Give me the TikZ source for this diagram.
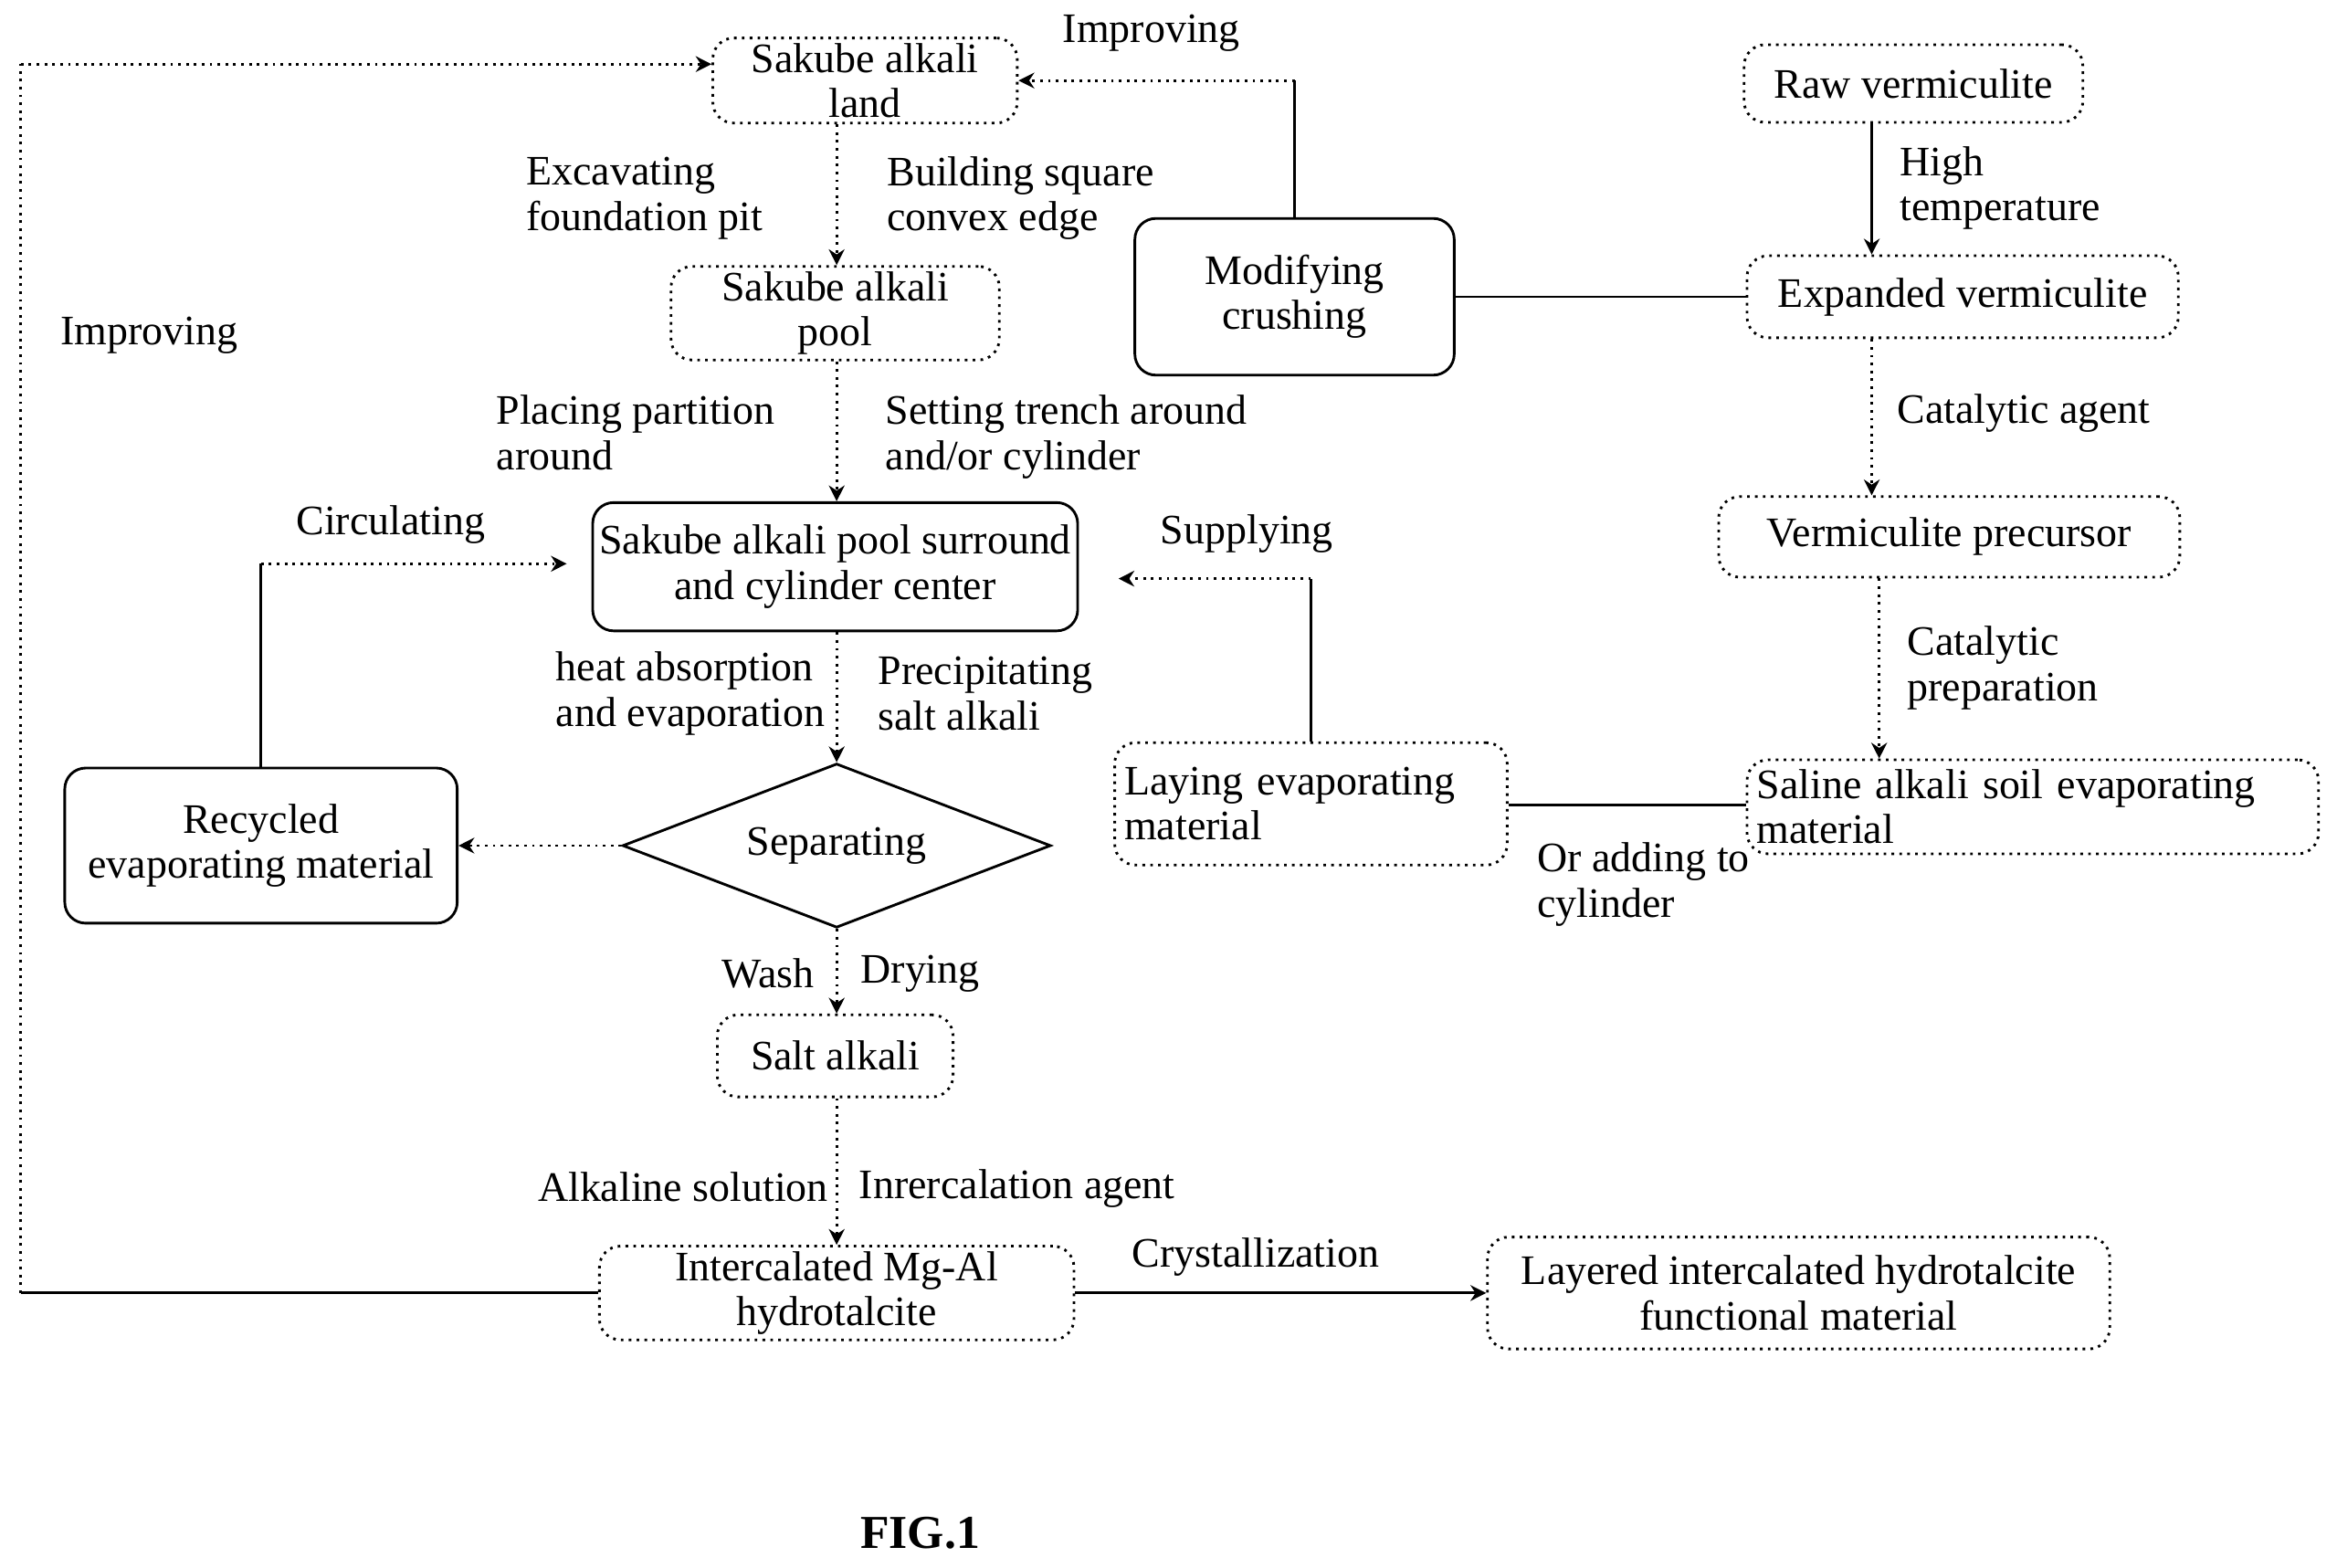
\documentclass[tikz,border=0pt]{standalone}
\usepackage{fontspec}
\setmainfont{Liberation Serif}
\usetikzlibrary{shapes.geometric,arrows.meta}
\begin{document}
\begin{tikzpicture}[x=0.01cm,y=-0.01cm,
 font=\fontsize{8}{8.6}\selectfont,
 box/.style={draw,rounded corners=4pt,align=center,inner sep=1pt},
 dt/.style={densely dotted},
 lab/.style={align=left,inner sep=0pt},
 arr/.style={-{Stealth[length=3pt,width=3pt]}},
 line width=0.5pt]
\useasboundingbox (0,0) rectangle (1567,1051);
\node[box,dt,minimum width=2.04cm,minimum height=0.55cm] (land) at (580,54) {Sakube alkali\\land};
\node[box,dt,minimum width=2.2cm,minimum height=0.6cm] (pool) at (560,210) {Sakube alkali\\pool};
\node[box,minimum width=3.25cm,minimum height=0.86cm] (sur) at (560,380) {Sakube alkali pool surround\\and cylinder center};
\node[draw,diamond,aspect=2.6,minimum width=2.87cm,minimum height=1.1cm,inner sep=0pt] (sep) at (561,567) {Separating};
\node[box,minimum width=2.63cm,minimum height=1.04cm] (rec) at (175,567) {Recycled\\evaporating material};
\node[box,dt,minimum width=1.58cm,minimum height=0.55cm] (salt) at (560,708) {Salt alkali};
\node[box,dt,minimum width=3.18cm,minimum height=0.59cm] (int) at (561,867) {Intercalated Mg-Al\\hydrotalcite};
\node[box,dt,minimum width=4.17cm,minimum height=0.75cm] (lay) at (1206,867) {Layered intercalated hydrotalcite\\functional material};
\node[box,dt,minimum width=2.27cm,minimum height=0.52cm] (raw) at (1283,56) {Raw vermiculite};
\node[box,dt,minimum width=2.89cm,minimum height=0.55cm] (exp) at (1316,199) {Expanded vermiculite};
\node[box,minimum width=2.14cm,minimum height=1.05cm] (mod) at (868,199) {Modifying\\crushing};
\node[box,dt,minimum width=3.09cm,minimum height=0.54cm] (pre) at (1307,360) {Vermiculite precursor};
\node[box,dt,minimum width=3.83cm,minimum height=0.63cm,align=left,text width=3.7cm] (sal) at (1363,541) {Saline alkali soil evaporating\\material};
\node[box,dt,minimum width=2.63cm,minimum height=0.82cm,align=left,text width=2.5cm] (layev) at (879,539) {Laying evaporating\\material};

\draw[dt,arr] (land.south -| 561,0) -- (pool.north -| 561,0);
\draw[dt,arr] (pool.south -| 561,0) -- (sur.north -| 561,0);
\draw[dt,arr] (sur.south -| 561,0) -- (sep.north);
\draw[dt,arr] (sep.south) -- (salt.north -| 561,0);
\draw[dt,arr] (salt.south -| 561,0) -- (int.north -| 561,0);
\draw[arr] (int.east) -- (lay.west);
\draw[dt,arr] (sep.west) -- (rec.east);
\draw (rec.north) -- (175,378); \coordinate (c1) at (380,378);
\draw[dt,arr] (175,378) -- (c1);
\draw (int.west) -- (14,867); \coordinate (c2) at (14,43);
\draw[dt] (14,867) -- (c2); \draw[dt,arr] (c2) -- (land.west |- 0,43);
\draw (mod.north) -- (868,54); \draw[dt,arr] (868,54) -- (land.east);
\draw[arr] (raw.south -| 1255,0) -- (exp.north -| 1255,0);
\draw (exp.west) -- (mod.east);
\draw[dt,arr] (exp.south -| 1255,0) -- (pre.north -| 1255,0);
\draw[dt,arr] (pre.south -| 1260,0) -- (sal.north -| 1260,0);
\draw (sal.west |- 0,540) -- (layev.east |- 0,540);
\draw (layev.north) -- (879,388); \coordinate (c3) at (750,388);
\draw[dt,arr] (879,388) -- (c3);

\node at (772,22) {Improving};
\node at (100,225) {Improving};
\node[lab,anchor=west] at (352,133) {Excavating\\foundation pit};
\node[lab,anchor=west] at (594,133) {Building square\\convex edge};
\node[lab,anchor=west] at (1273,126) {High\\temperature};
\node[lab,anchor=west] at (332,290) {Placing partition\\around};
\node[lab,anchor=west] at (593,293) {Setting trench around\\and/or cylinder};
\node at (1357,277) {Catalytic agent};
\node at (262,352) {Circulating};
\node at (836,358) {Supplying};
\node[lab,anchor=west] at (1278,448) {Catalytic\\preparation};
\node[lab,anchor=west] at (372,465) {heat absorption\\and evaporation};
\node[lab,anchor=west] at (588,465) {Precipitating\\salt alkali};
\node[lab,anchor=west] at (1030,593) {Or adding to\\cylinder};
\node at (515,653) {Wash};
\node at (617,653) {Drying};
\node at (458,796) {Alkaline solution};
\node at (682,797) {Inrercalation agent};
\node at (842,843) {Crystallization};
\node[font=\fontsize{9}{10}\selectfont\bfseries] at (617,1028) {FIG.1};
\end{tikzpicture}
\end{document}
